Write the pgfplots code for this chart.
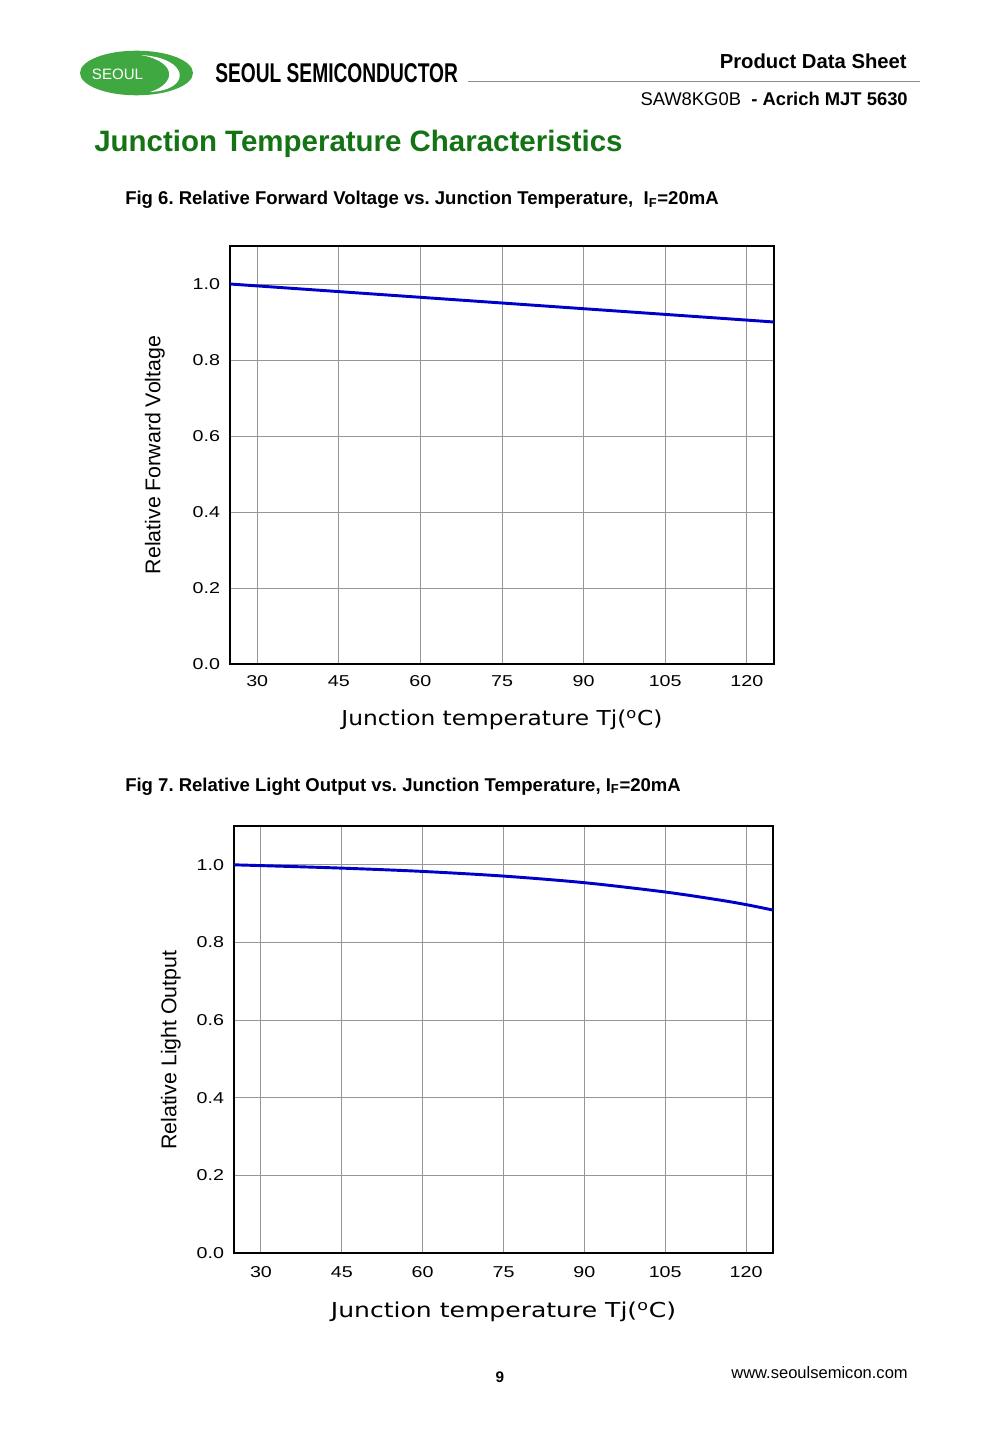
\documentclass[border=0pt]{standalone}
\usepackage{fontspec}
\setmainfont{Liberation Sans}
\newfontfamily\verd{DejaVu Sans}
\usepackage{pgfplots}
\pgfplotsset{compat=1.18}
\frenchspacing
\definecolor{titlegreen}{RGB}{20,115,20}
\definecolor{logogreen}{RGB}{64,168,64}
\definecolor{plotblue}{RGB}{0,0,200}
\definecolor{gridgray}{RGB}{150,150,150}
\definecolor{rulegray}{RGB}{140,140,140}
\newcommand{\tl}[1]{\scalebox{1.25}[1]{#1}}
\pgfplotsset{
  chartstyle/.style={
    scale only axis,
    xmin=25, xmax=125, ymin=0, ymax=1.1,
    xtick={30,45,60,75,90,105,120},
    xticklabels={\tl{30},\tl{45},\tl{60},\tl{75},\tl{90},\tl{105},\tl{120}},
    ytick={0,0.2,0.4,0.6,0.8,1.0},
    yticklabels={\tl{0.0},\tl{0.2},\tl{0.4},\tl{0.6},\tl{0.8},\tl{1.0}},
    tick label style={font=\fontsize{11.8}{14}\selectfont},
    tick style={draw=none},
    major tick length=0pt,
    grid=major,
    major grid style={draw=gridgray, line width=0.7pt},
    axis line style={line width=1.1pt},
    yticklabel style={xshift=-4pt},
  }
}
\begin{document}
\begin{tikzpicture}
\begin{scope}[x=0.75pt,y=0.75pt]
\useasboundingbox (0,0) rectangle (1000,-1444);
\fill[white] (0,0) rectangle (1000,-1444);
% logo
\fill[logogreen] (136.5,-73) ellipse [x radius=56.5, y radius=22.3];
\fill[white] (141,-55) .. controls (190,-58) and (192,-90) .. (150,-92)
  .. controls (176,-84) and (178,-62) .. (141,-55) -- cycle;
\node[anchor=base, white, inner sep=0pt, font=\fontsize{11.3}{13}\selectfont] at (117.5,-79.5) {SEOUL};
\node[anchor=base west, inner sep=0pt] at (215,-82.3) {\resizebox{182pt}{14.2pt}{\bfseries SEOUL SEMICONDUCTOR}};
\draw[rulegray, line width=0.9pt] (468,-81.7) -- (920,-81.7);
\node[anchor=base east, inner sep=0pt, font=\fontsize{15.2}{17}\selectfont\bfseries] at (907,-69) {Product Data Sheet};
\node[anchor=base east, inner sep=0pt, font=\fontsize{13.8}{16}\selectfont] at (908,-105.7) {SAW8KG0B\ \ \textbf{- Acrich MJT 5630}};
\node[anchor=base west, inner sep=0pt, font=\fontsize{22.1}{25}\selectfont\bfseries, text=titlegreen] at (94,-151.5) {Junction Temperature Characteristics};
\node[anchor=base west, inner sep=0pt, font=\fontsize{13.9}{16}\selectfont\bfseries] at (125,-205) {Fig 6. Relative Forward Voltage vs. Junction Temperature,\ \ I\textsubscript{F}=20mA};
\node[anchor=base west, inner sep=0pt, font=\fontsize{13.9}{16}\selectfont\bfseries] at (125,-791) {Fig 7. Relative Light Output vs. Junction Temperature, I\textsubscript{F}=20mA};
\node[anchor=base, inner sep=0pt, font=\fontsize{11.5}{14}\selectfont\bfseries] at (500,-1382) {9};
\node[anchor=base east, inner sep=0pt, font=\fontsize{12.4}{14}\selectfont] at (908,-1378.3) {www.seoulsemicon.com};
\end{scope}

\begin{axis}[chartstyle,
  at={(172.5pt,-498pt)}, anchor=south west,
  width=408pt, height=313.5pt,
  xticklabel style={anchor=base, yshift=-16.9pt},
  ylabel={Relative Forward Voltage},
  ylabel style={font=\fontsize{16}{18}\selectfont, at={(axis description cs:-0.138,0.5)}, anchor=center},
  xlabel={\scalebox{1.135}[1]{\verd Junction temperature Tj(\textsuperscript{o}C)}},
  xlabel style={font=\fontsize{15.4}{17}\selectfont, at={(axis description cs:0.5,-0.134)}, anchor=center},
]
\addplot[draw=plotblue, line width=2.2pt] coordinates {
 (25,1.000) (30,0.995) (45,0.980) (60,0.965) (75,0.950) (90,0.935) (105,0.920) (120,0.905) (125,0.900)
};
\end{axis}

\begin{axis}[chartstyle,
  at={(175.5pt,-939.75pt)}, anchor=south west,
  width=404.25pt, height=320.25pt,
  xticklabel style={anchor=base, yshift=-18pt},
  ylabel={Relative Light Output},
  ylabel style={font=\fontsize{16}{18}\selectfont, at={(axis description cs:-0.117,0.475)}, anchor=center},
  xlabel={\scalebox{1.22}[1]{\verd Junction temperature Tj(\textsuperscript{o}C)}},
  xlabel style={font=\fontsize{15.4}{17}\selectfont, at={(axis description cs:0.5,-0.138)}, anchor=center},
]
\addplot[draw=plotblue, line width=2.2pt, smooth] coordinates {
 (25,1.000) (30,0.998) (45,0.9915) (60,0.983) (75,0.971) (90,0.954) (105,0.930) (115,0.9095) (120,0.8975) (125,0.8835)
};
\end{axis}
\end{tikzpicture}
\end{document}
